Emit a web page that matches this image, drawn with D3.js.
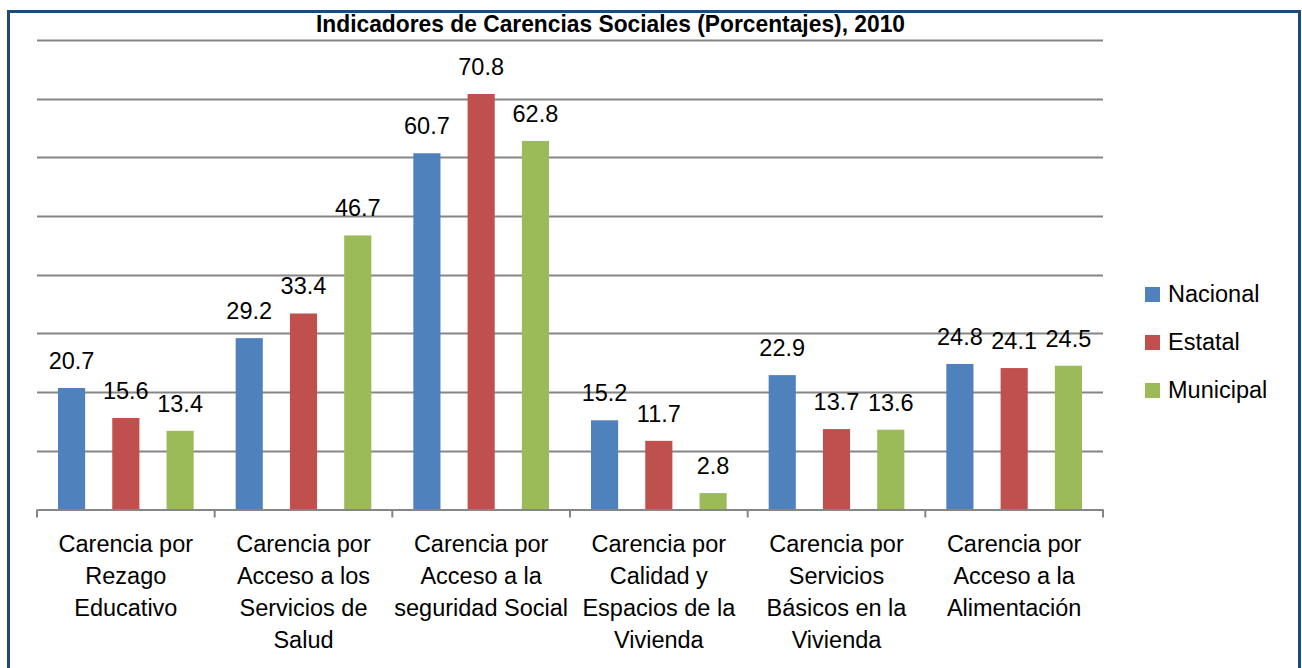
<!DOCTYPE html>
<html lang="es">
    <head>
        <meta charset="UTF-8">
        <style>
            html, body{
                margin: 0;
                padding: 0;
                background: #fff;
                overflow: hidden;
            }
            svg text{
                font-family: 'Liberation Sans', Arial, sans-serif;
                fill: #000;
            }
        </style>
    </head>
    <body>
        <svg id="chart" width="1302" height="668"></svg>

        <script src="https://d3js.org/d3.v7.min.js"></script>
        <script>
            // ---- data ----
            const categories = [
                ['Carencia por', 'Rezago', 'Educativo'],
                ['Carencia por', 'Acceso a los', 'Servicios de', 'Salud'],
                ['Carencia por', 'Acceso a la', 'seguridad Social'],
                ['Carencia por', 'Calidad y', 'Espacios de la', 'Vivienda'],
                ['Carencia por', 'Servicios', 'Básicos en la', 'Vivienda'],
                ['Carencia por', 'Acceso a la', 'Alimentación']
            ]
            const seriesNames = ['Nacional', 'Estatal', 'Municipal']
            const nacional  = [20.7, 29.2, 60.7, 15.2, 22.9, 24.8]
            const estatal   = [15.6, 33.4, 70.8, 11.7, 13.7, 24.1]
            const municipal = [13.4, 46.7, 62.8,  2.8, 13.6, 24.5]
            const gridTicks = [10, 20, 30, 40, 50, 60, 70, 80]
            const title = 'Indicadores de Carencias Sociales (Porcentajes), 2010'

            const colors = ['#4F81BD', '#C0504D', '#9BBB59']
            const series = [nacional, estatal, municipal]

            // ---- layout ----
            const svg = d3.select('#chart')
            const plot = {left: 37, right: 1103, top: 40, bottom: 509.5}

            // outer frame
            svg.append('rect')
                .attr('x', 8.5).attr('y', 11.5)
                .attr('width', 1291).attr('height', 700)
                .attr('fill', 'none')
                .attr('stroke', '#1F497D')
                .attr('stroke-width', 3)

            const x0 = d3.scaleBand()
                .domain(d3.range(categories.length))
                .range([plot.left, plot.right])
                .padding(0)
            const x1 = d3.scaleBand()
                .domain(d3.range(seriesNames.length))
                .range([21, x0.bandwidth() - 21])
                .paddingInner(0.5)
                .paddingOuter(0)
            const y = d3.scaleLinear()
                .domain([0, 80])
                .range([plot.bottom, plot.top])

            // gridlines
            svg.append('g')
                .selectAll('line')
                .data(gridTicks)
                .join('line')
                .attr('x1', plot.left).attr('x2', plot.right)
                .attr('y1', d => Math.round(y(d)) + 0.5)
                .attr('y2', d => Math.round(y(d)) + 0.5)
                .attr('stroke', '#868686')
                .attr('stroke-width', 2)

            // bars
            const groups = svg.append('g')
                .selectAll('g')
                .data(categories)
                .join('g')
                .attr('transform', (d, i) => 'translate(' + x0(i) + ',0)')

            groups.selectAll('rect')
                .data((d, i) => series.map((s, k) => ({k: k, v: s[i]})))
                .join('rect')
                .attr('x', d => x1(d.k))
                .attr('width', x1.bandwidth())
                .attr('y', d => y(d.v))
                .attr('height', d => y(0) - y(d.v))
                .attr('fill', d => colors[d.k])

            groups.selectAll('text.val')
                .data((d, i) => series.map((s, k) => ({k: k, v: s[i]})))
                .join('text')
                .attr('class', 'val')
                .attr('x', d => x1(d.k) + x1.bandwidth() / 2)
                .attr('y', d => y(d.v) - 19)
                .attr('text-anchor', 'middle')
                .attr('font-size', 23.5)
                .text(d => d.v.toFixed(1))

            // x axis
            const axis = svg.append('g')
                .attr('transform', 'translate(0,' + plot.bottom + ')')
                .call(d3.axisBottom(x0).tickSize(0).tickFormat(''))
            axis.select('.domain').attr('stroke', '#868686').attr('stroke-width', 2)
            axis.selectAll('line.sep')
                .data(d3.range(categories.length + 1))
                .join('line')
                .attr('class', 'sep')
                .attr('x1', i => plot.left + i * x0.step())
                .attr('x2', i => plot.left + i * x0.step())
                .attr('y1', 0).attr('y2', 8)
                .attr('stroke', '#868686')
                .attr('stroke-width', 2)

            // category labels
            svg.append('g')
                .selectAll('text')
                .data(categories)
                .join('text')
                .attr('x', (d, i) => x0(i) + x0.bandwidth() / 2)
                .attr('y', 552)
                .attr('text-anchor', 'middle')
                .attr('font-size', 23.5)
                .selectAll('tspan')
                .data(d => d)
                .join('tspan')
                .attr('x', function(){ return this.parentNode.getAttribute('x') })
                .attr('dy', (d, j) => j === 0 ? 0 : 32)
                .text(d => d)

            // title
            svg.append('text')
                .attr('x', 610.5)
                .attr('y', 32)
                .attr('text-anchor', 'middle')
                .attr('font-size', 24)
                .attr('font-weight', 'bold')
                .attr('textLength', 589)
                .attr('lengthAdjust', 'spacingAndGlyphs')
                .text(title)

            // legend
            const legend = svg.append('g')
                .selectAll('g')
                .data(seriesNames)
                .join('g')
                .attr('transform', (d, i) => 'translate(1145,' + (302 + i * 48) + ')')
            legend.append('rect')
                .attr('x', 0).attr('y', -15)
                .attr('width', 15).attr('height', 15)
                .attr('fill', (d, i) => colors[i])
            legend.append('text')
                .attr('x', 23).attr('y', 0)
                .attr('font-size', 23.5)
                .text(d => d)
        </script>
    </body>
</html>
